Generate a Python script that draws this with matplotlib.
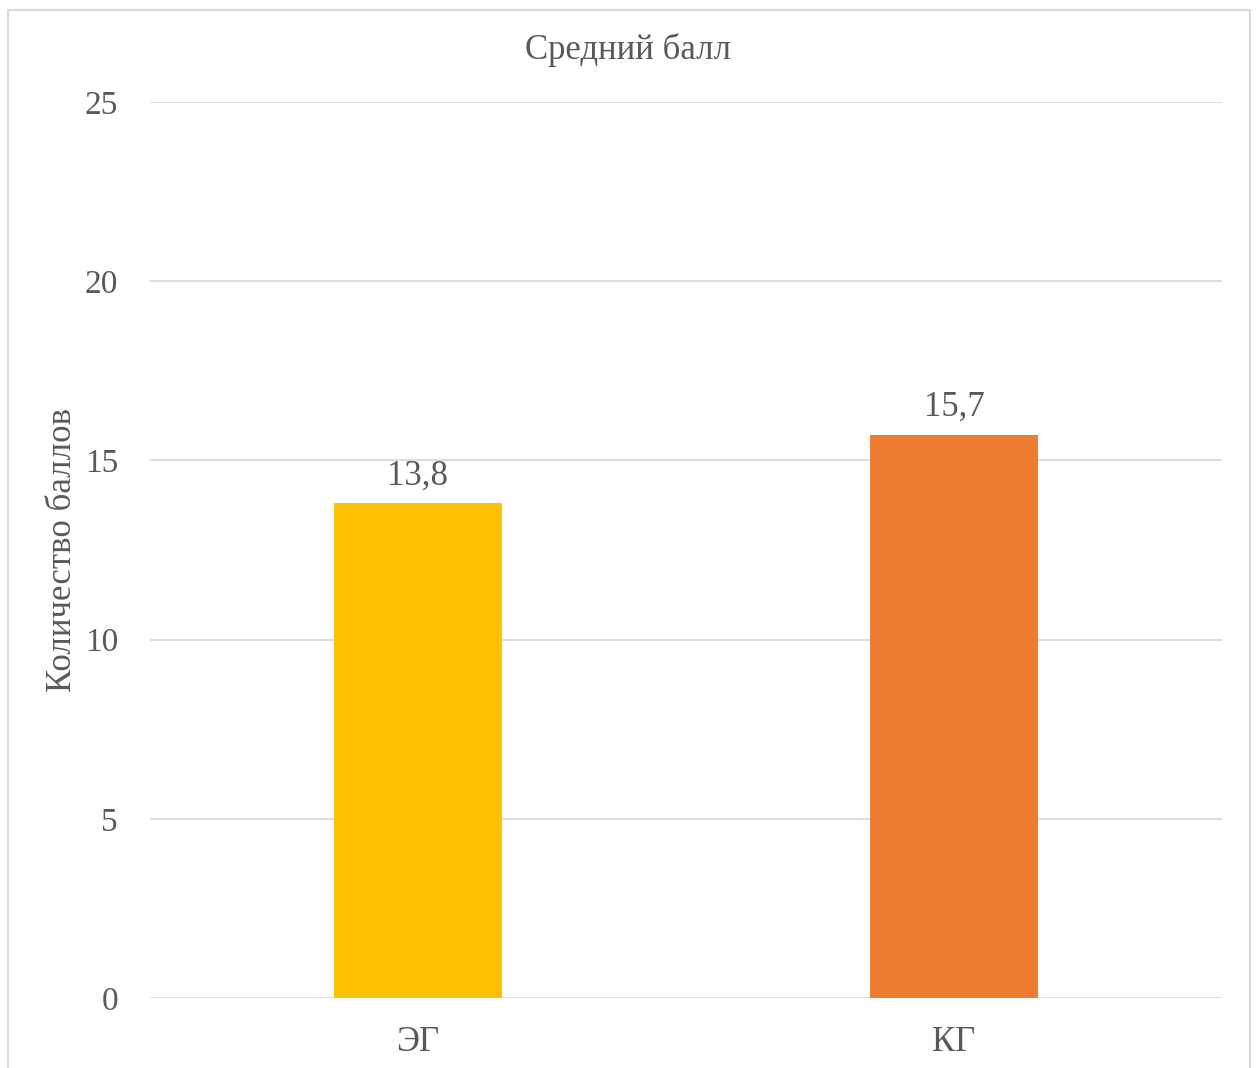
import matplotlib
matplotlib.use("Agg")
import matplotlib.pyplot as plt
from matplotlib.patches import Rectangle

categories = ["ЭГ", "КГ"]
values = [13.8, 15.7]
colors = ["#FFC000", "#ED7D31"]
y_ticks = [0, 5, 10, 15, 20, 25]

text_color = "#595959"
grid_color = "#D9D9D9"

plt.rcParams["font.family"] = ["Liberation Serif", "DejaVu Serif"]

fig = plt.figure(figsize=(12.56, 10.68), dpi=100)
fig.patches.append(Rectangle((8 / 1256, -0.01), 1242 / 1256, (1068 - 10) / 1068 + 0.01,
                             transform=fig.transFigure, fill=False,
                             edgecolor=grid_color, linewidth=1.5))

ax = fig.add_axes([150 / 1256, 70 / 1068, 1072 / 1256, 896 / 1068])
x = list(range(len(categories)))
bars = ax.bar(x, values, width=0.313, color=colors, zorder=3)

ax.set_xlim(-0.5, len(categories) - 0.5)
ax.set_ylim(0, 25)
ax.set_yticks(y_ticks)
ax.set_yticklabels([str(t) for t in y_ticks], fontsize=24, color=text_color)
ax.set_xticks(x)
ax.set_xticklabels(categories, fontsize=25, color=text_color)
ax.tick_params(axis="both", length=0)
ax.tick_params(axis="y", pad=23)
ax.tick_params(axis="x", pad=20)

ax.yaxis.grid(True, color=grid_color, linewidth=1.3, zorder=0)
for s in ax.spines.values():
    s.set_visible(False)

for b, v in zip(bars, values):
    ax.annotate(f"{v:.1f}".replace(".", ","), (b.get_x() + b.get_width() / 2, v),
                xytext=(0, 8), textcoords="offset points",
                ha="center", va="bottom", fontsize=25, color=text_color)

ax.set_ylabel("Количество баллов", fontsize=25, color=text_color, labelpad=4)
fig.text(628 / 1256, 1 - 50 / 1068, "Средний балл", ha="center", va="center",
         fontsize=25, color=text_color)

fig.savefig("out.png", dpi=100)
